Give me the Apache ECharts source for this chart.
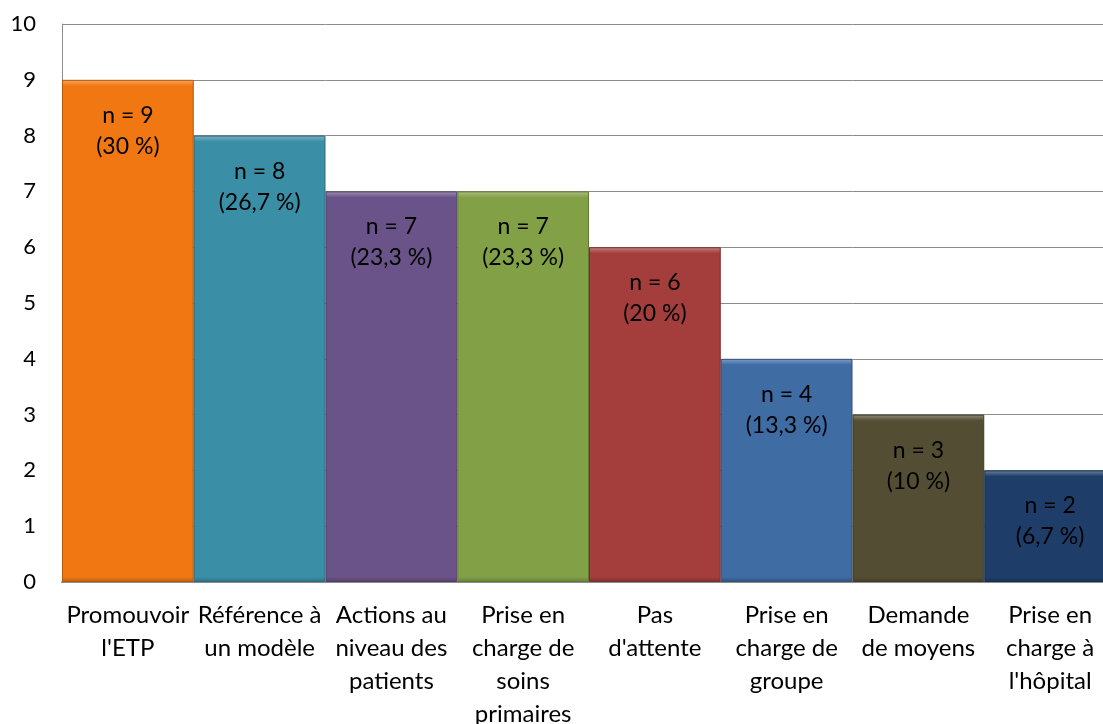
<!DOCTYPE html>
<html><head><meta charset="utf-8">
<script src="https://cdn.jsdelivr.net/npm/echarts@6/dist/echarts.min.js"></script>
<style>html,body{margin:0;padding:0;background:#fff;overflow:hidden}#c{width:1116px;height:724px}</style>
</head><body><div id="c"></div>
<script>
const categories = ["Promouvoir\nl'ETP","Référence à\nun modèle","Actions au\nniveau des\npatients","Prise en\ncharge de\nsoins\nprimaires","Pas\nd'attente","Prise en\ncharge de\ngroupe","Demande\nde moyens","Prise en\ncharge à\nl'hôpital"];
const counts = [9,8,7,7,6,4,3,2];
const percents = ["30 %","26,7 %","23,3 %","23,3 %","20 %","13,3 %","10 %","6,7 %"];
const colors = ["#F07712","#3A8EA6","#6A5388","#82A046","#A33E3D","#3E6CA3","#534E33","#1E3E69"];
const yTicks = {min:0,max:10,interval:1};
function shade(hex, f){
  const n=parseInt(hex.slice(1),16);let r=n>>16,g=(n>>8)&255,b=n&255;
  if(f>0){r+=(255-r)*f;g+=(255-g)*f;b+=(255-b)*f;}else{r*=1+f;g*=1+f;b*=1+f;}
  return 'rgb('+Math.round(r)+','+Math.round(g)+','+Math.round(b)+')';
}
const font = 'Lato, "Open Sans", sans-serif';
const unitPx = 558 / (yTicks.max - yTicks.min);
const chart = echarts.init(document.getElementById('c'));
chart.setOption({
  animation:false,
  grid:{left:62,top:24,right:0,height:558,containLabel:false,outerBoundsMode:'none'},
  xAxis:{type:'category',data:categories,
    axisLine:{lineStyle:{color:'#8c8c8c',width:2}},
    axisTick:{show:false},
    axisLabel:{color:'#000',fontSize:24,fontFamily:font,lineHeight:33,margin:17,interval:0}},
  yAxis:{type:'value',min:yTicks.min,max:yTicks.max,interval:yTicks.interval,
    axisLine:{show:true,lineStyle:{color:'#8c8c8c',width:1}},
    axisTick:{show:false},
    splitLine:{lineStyle:{color:'#8c8c8c',width:1}},
    axisLabel:{color:'#000',fontSize:22,fontFamily:font,margin:26}},
  series:[{type:'bar',barCategoryGap:'0%',
    data:counts.map((v,i)=>{
      const h = v*unitPx, t = 6/h, b = 5/h;
      return {value:v,
      itemStyle:{
        color:{type:'linear',x:0,y:0,x2:0,y2:1,colorStops:[
          {offset:0,color:shade(colors[i],0.35)},
          {offset:t*0.5,color:shade(colors[i],0.18)},
          {offset:t,color:colors[i]},
          {offset:1-b,color:colors[i]},
          {offset:1,color:shade(colors[i],-0.22)}]},
        borderColor:shade(colors[i],-0.25),borderWidth:1},
      label:{formatter:'n = '+v+'\n('+percents[i]+')'}};}),
    label:{show:true,position:'insideTop',distance:20,color:'#000',fontSize:23,fontFamily:font,lineHeight:31}
  }]
});
</script></body></html>
